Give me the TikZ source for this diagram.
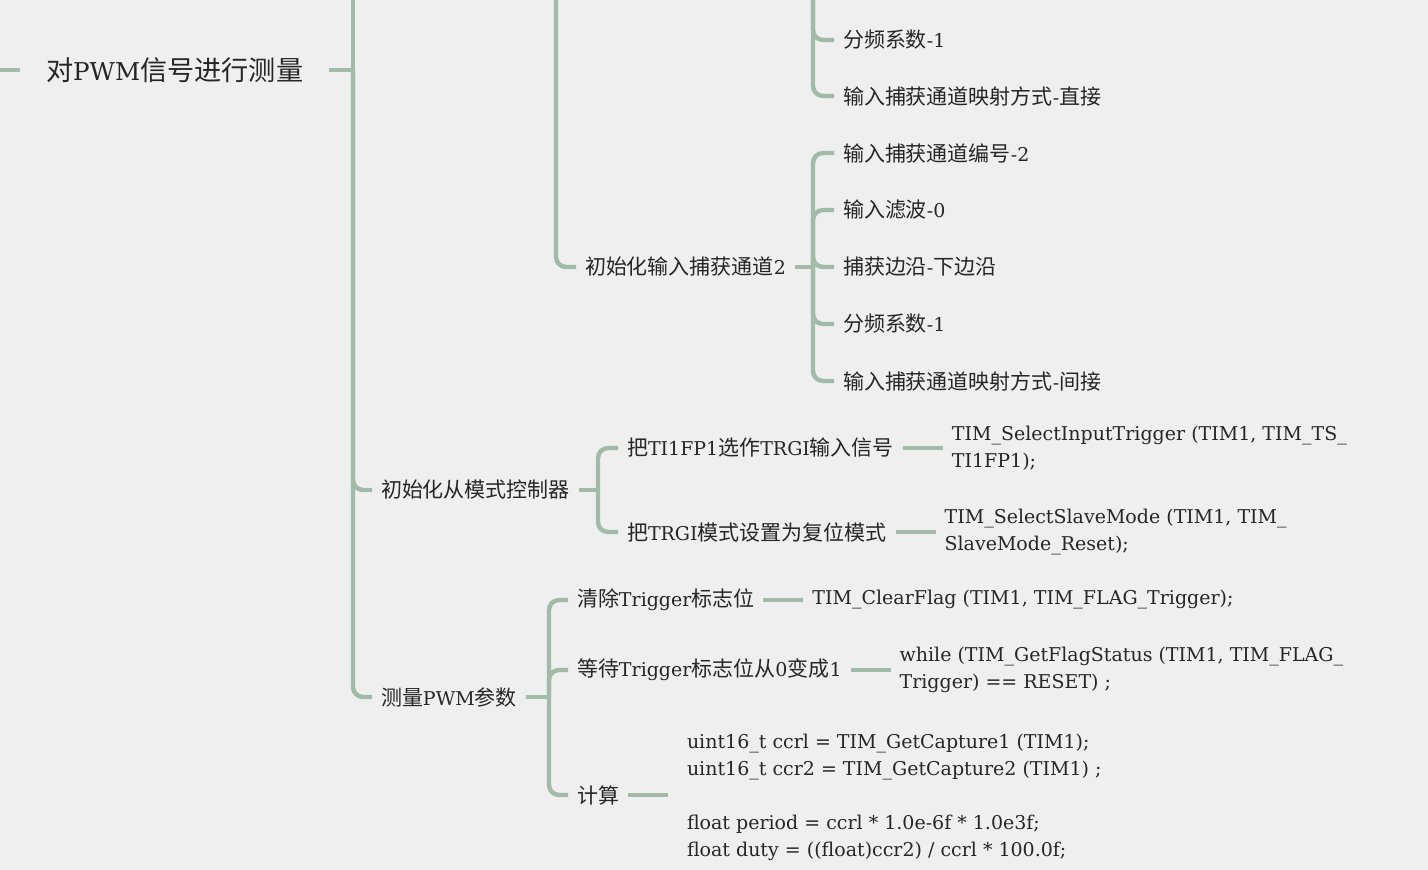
\documentclass[tikz,border=0pt]{standalone}
\usepackage{fontspec}
\setmainfont{DejaVu Serif}
\newfontfamily\cjk{Noto Sans CJK SC}[Scale=1.105]
\usepackage{tikz}
\usetikzlibrary{positioning}
\usepackage{xcolor}
\definecolor{bgc}{HTML}{EFEFEF}
\definecolor{linkc}{HTML}{A2BAA8}
\definecolor{txtc}{HTML}{262626}
\newcommand{\zh}[1]{{\cjk #1}}
\tikzset{
    topic/.style = {anchor=west, inner xsep=0pt, inner ysep=2pt, outer xsep=4.5pt, text=txtc, font=\fontsize{9.5}{13.5}\selectfont},
    rootnode/.style = {topic, outer xsep=13pt, font=\fontsize{12.3}{16}\selectfont},
    code/.style = {topic, align=left},
    link/.style = {draw=linkc, line width=2.2pt, rounded corners=5pt}
}

\begin{document}
\begin{tikzpicture}[x=0.5pt, y=-0.5pt]
\useasboundingbox (0,0) rectangle (1428,870);
\fill[bgc] (0,0) rectangle (1428,870);
\clip (0,0) rectangle (1428,870);

% root and its spine
\node[rootnode] (root) at (20,70) {\zh{对}PWM\zh{信号进行测量}};
\coordinate (rootin) at (-10,70);
\coordinate (rootspine) at (353,-20);
\coordinate (jroot) at (353,70);
\coordinate (capspine) at (556,-20);
\coordinate (ch1spine) at (813,-20);

% channel 1 (tail)
\node[topic] (psc1) at (834,40) {\zh{分频系数}-1};
\node[topic] (map1) at (834,96) {\zh{输入捕获通道映射方式}-\zh{直接}};

% channel 2
\node[topic] (ch2) at (576,267) {\zh{初始化输入捕获通道}2};
\coordinate (jch2) at (813,267);
\node[topic] (num2) at (834,153) {\zh{输入捕获通道编号}-2};
\node[topic] (flt2) at (834,210) {\zh{输入滤波}-0};
\node[topic] (edge2) at (834,267) {\zh{捕获边沿}-\zh{下边沿}};
\node[topic] (psc2) at (834,324) {\zh{分频系数}-1};
\node[topic] (map2) at (834,381) {\zh{输入捕获通道映射方式}-\zh{间接}};

% slave mode controller
\node[topic] (slave) at (372,490) {\zh{初始化从模式控制器}};
\coordinate (jslave) at (598,490);
\node[topic] (trgi) at (618,448) {\zh{把}TI1FP1\zh{选作}TRGI\zh{输入信号}};
\node[topic] (reset) at (618,532) {\zh{把}TRGI\zh{模式设置为复位模式}};
\node[code, right=20pt of trgi] (trgicode) {TIM\_SelectInputTrigger (TIM1, TIM\_TS\_\\TI1FP1);};
\node[code, right=20pt of reset] (resetcode) {TIM\_SelectSlaveMode (TIM1, TIM\_\\SlaveMode\_Reset);};

% measurement
\node[topic] (meas) at (372,697) {\zh{测量}PWM\zh{参数}};
\coordinate (jmeas) at (549,697);
\node[topic] (clr) at (568,600) {\zh{清除}Trigger\zh{标志位}};
\node[topic] (wait) at (568,670) {\zh{等待}Trigger\zh{标志位从}0\zh{变成}1};
\node[topic] (calc) at (568,795) {\zh{计算}};
\node[code, right=20pt of clr] (clrcode) {TIM\_ClearFlag (TIM1, TIM\_FLAG\_Trigger);};
\node[code, right=20pt of wait] (waitcode) {while (TIM\_GetFlagStatus (TIM1, TIM\_FLAG\_\\Trigger) == RESET) ;};
\node[code, inner xsep=5pt, yshift=-1pt, right=20pt of calc] (calccode) {uint16\_t ccrl = TIM\_GetCapture1 (TIM1);\\uint16\_t ccr2 = TIM\_GetCapture2 (TIM1) ;\\[13.5pt]float period = ccrl * 1.0e-6f * 1.0e3f;\\float duty = ((float)ccr2) / ccrl * 100.0f;};

% connectors
\draw[link] (rootin) -- (root.west);
\draw[link] (root.east) -- (jroot);
\draw[link] (rootspine) -- (jroot);
\draw[link] (jroot) |- (slave.west);
\draw[link] (jroot) |- (meas.west);

\draw[link] (capspine) |- (ch2.west);
\foreach \c in {psc1, map1}
    \draw[link] (ch1spine) |- (\c.west);

\draw[link] (ch2.east) -- (jch2);
\foreach \c in {num2, flt2, edge2, psc2, map2}
    \draw[link] (jch2) |- (\c.west);

\draw[link] (slave.east) -- (jslave);
\foreach \c in {trgi, reset}
    \draw[link] (jslave) |- (\c.west);
\draw[link] (trgi) -- (trgicode);
\draw[link] (reset) -- (resetcode);

\draw[link] (meas.east) -- (jmeas);
\foreach \c in {clr, wait, calc}
    \draw[link] (jmeas) |- (\c.west);
\draw[link] (clr) -- (clrcode);
\draw[link] (wait) -- (waitcode);
\draw[link] (calc) -- (calc -| calccode.west);
\end{tikzpicture}
\end{document}
